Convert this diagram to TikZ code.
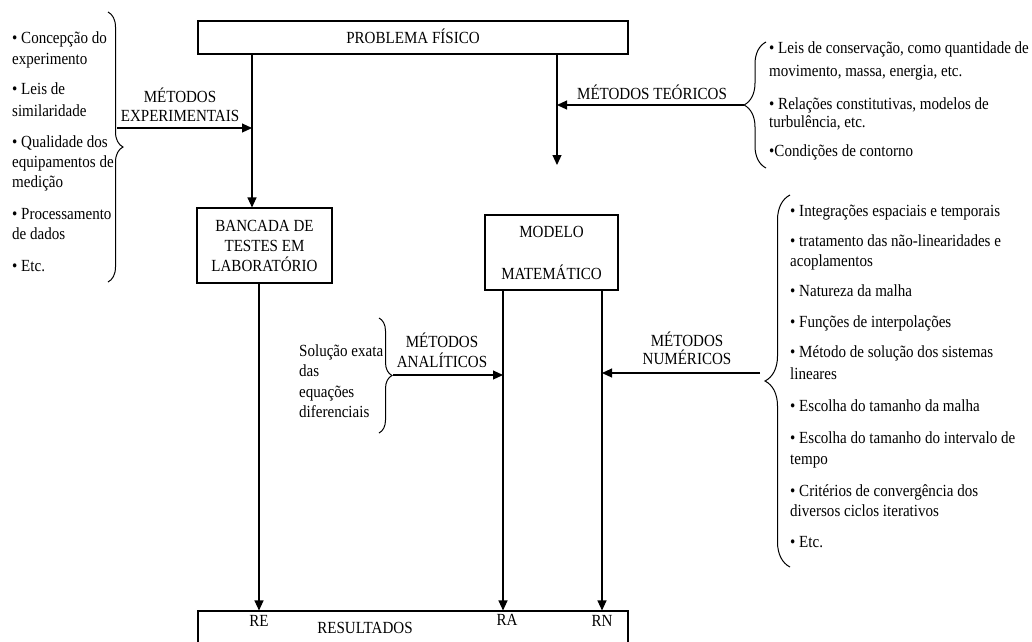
\documentclass[tikz,border=0pt]{standalone}
\usepackage{fontspec}
\setmainfont[FakeStretch=0.885]{Liberation Serif}
\usetikzlibrary{arrows.meta,decorations.pathreplacing}
\tikzset{
  box/.style={draw=black,line width=1.1pt,inner sep=0pt,font=\fontsize{17}{20}\selectfont,align=center},
  txt/.style={inner sep=0pt,anchor=west,text height=12pt,text depth=4pt,font=\fontsize{17}{20}\selectfont},
  ctxt/.style={txt,anchor=center},
  arr/.style={line width=1.1pt,-{Triangle[length=10pt,width=9pt]}},
  brc/.style={line width=1pt,decorate,decoration={brace,amplitude=#1}},
}
\begin{document}
\begin{tikzpicture}[x=1pt,y=-1pt]
\clip (0,0) rectangle (1032,641);
\fill[white] (0,0) rectangle (1032,641);
% boxes
\node[box,minimum width=430pt,minimum height=33pt] (pf) at (413,37.5) {};
\node[ctxt] (pft) at (413,39) {PROBLEMA FÍSICO};
\node[box,minimum width=135pt,minimum height=75pt] (bk) at (264.5,245.5) {};
\node[ctxt] (bk1) at (264.5,227) {BANCADA DE};
\node[ctxt] (bk2) at (264.5,247) {TESTES EM};
\node[ctxt] (bk3) at (264.5,267) {LABORATÓRIO};
\node[box,minimum width=133pt,minimum height=75pt] (mm) at (551.5,252.5) {};
\node[ctxt] (mm1) at (551.5,233) {MODELO};
\node[ctxt] (mm2) at (551.5,275) {MATEMÁTICO};
\node[box,minimum width=430pt,minimum height=60pt] (rs) at (413,641) {};
\node[ctxt] (re) at (259,622) {RE};
\node[ctxt] (rst) at (365,629) {RESULTADOS};
\node[ctxt] (ra) at (507,621) {RA};
\node[ctxt] (rn) at (602,622) {RN};
% coordinates
\coordinate (xe) at (252,0);
\coordinate (xt) at (557,0);
\coordinate (xb) at (259,0);
\coordinate (xa) at (503,0);
\coordinate (xn) at (602,0);
\coordinate (tend) at (557,165);
\coordinate (ebr) at (117,128);
\coordinate (tbr) at (744,105);
\coordinate (abr) at (393,375);
\coordinate (nbr) at (760,373);
% vertical connectors
\draw[arr] (xe |- pf.south) -- (xe |- bk.north);
\draw[arr] (xt |- pf.south) -- (tend);
\draw[arr] (xb |- bk.south) -- (xb |- rs.north);
\draw[arr] (xa |- mm.south) -- (xa |- rs.north);
\draw[arr] (xn |- mm.south) -- (xn |- rs.north);
% horizontal connectors
\draw[arr] (ebr) -- (xe |- ebr);
\draw[arr] (tbr) -- (xt |- tbr);
\draw[arr] (abr) -- (xa |- abr);
\draw[arr] (nbr) -- (xn |- nbr);
% braces
\draw[brc=15pt] (108,12) -- (108,282);
\draw[brc=22pt] (766,168) -- (766,42);
\draw[brc=13pt] (379,318) -- (379,433);
\draw[brc=25pt] (790,567) -- (790,195);
% arrow labels
\node[ctxt] (me1) at (180,98) {MÉTODOS};
\node[ctxt] (me2) at (180,117) {EXPERIMENTAIS};
\node[ctxt] (mt) at (652,95) {MÉTODOS TEÓRICOS};
\node[ctxt] (ma1) at (442,343) {MÉTODOS};
\node[ctxt] (ma2) at (442,363) {ANALÍTICOS};
\node[ctxt] (mn1) at (687,342) {MÉTODOS};
\node[ctxt] (mn2) at (687,360) {NUMÉRICOS};
% left list
\node[txt] (l1) at (12,39) {• Concepção do};
\node[txt] (l2) at (12,60) {experimento};
\node[txt] (l3) at (12,90) {• Leis de};
\node[txt] (l4) at (12,112) {similaridade};
\node[txt] (l5) at (12,143) {• Qualidade dos};
\node[txt] (l6) at (12,163) {equipamentos de};
\node[txt] (l7) at (12,183) {medição};
\node[txt] (l8) at (12,215) {• Processamento};
\node[txt] (l9) at (12,235) {de dados};
\node[txt] (l10) at (12,267) {• Etc.};
% theoretical list
\node[txt] (t1) at (769,49) {• Leis de conservação, como quantidade de};
\node[txt] (t2) at (769,72) {movimento, massa, energia, etc.};
\node[txt] (t3) at (769,105) {• Relações constitutivas, modelos de};
\node[txt] (t4) at (769,123) {turbulência, etc.};
\node[txt] (t5) at (769,152) {•Condições de contorno};
% analytical text
\node[txt] (a1) at (299,352) {Solução exata};
\node[txt] (a2) at (299,372) {das};
\node[txt] (a3) at (299,393) {equações};
\node[txt] (a4) at (299,413) {diferenciais};
% numerical list
\node[txt] (n1) at (790,212) {• Integrações espaciais e temporais};
\node[txt] (n2) at (790,242) {• tratamento das não-linearidades e};
\node[txt] (n3) at (790,262) {acoplamentos};
\node[txt] (n4) at (790,292) {• Natureza da malha};
\node[txt] (n5) at (790,323) {• Funções de interpolações};
\node[txt] (n6) at (790,353) {• Método de solução dos sistemas};
\node[txt] (n7) at (790,375) {lineares};
\node[txt] (n8) at (790,407) {• Escolha do tamanho da malha};
\node[txt] (n9) at (790,439) {• Escolha do tamanho do intervalo de};
\node[txt] (n10) at (790,460) {tempo};
\node[txt] (n11) at (790,492) {• Critérios de convergência dos};
\node[txt] (n12) at (790,512) {diversos ciclos iterativos};
\node[txt] (n13) at (790,543) {• Etc.};
\end{tikzpicture}
\end{document}
